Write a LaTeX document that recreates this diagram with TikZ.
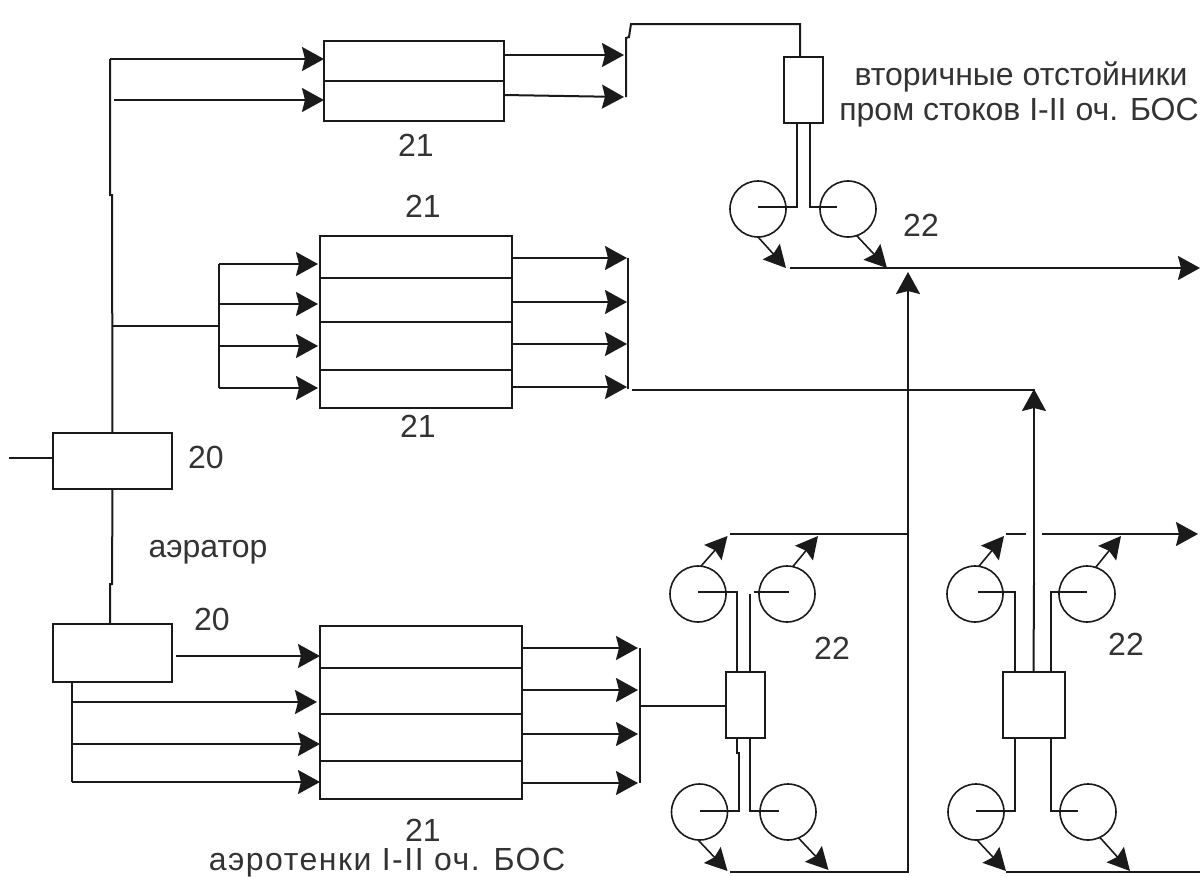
\documentclass[tikz,border=0pt]{standalone}
\usepackage{fontspec}
\setmainfont{Liberation Sans}
\usetikzlibrary{arrows.meta,calc}
\definecolor{ink}{HTML}{1A1A1A}
\definecolor{txt}{HTML}{333333}
\tikzset{
  conn/.style={draw=ink,line width=2pt},
  flow/.style={conn,-{Stealth[length=22pt,width=24pt,inset=3pt]}},
  tinyflow/.style={draw=ink,line width=1.6pt,-{Stealth[length=22pt,width=23pt,inset=3pt]}},
  box/.style={draw=ink,line width=2pt,inner sep=0pt,outer sep=0pt},
  tank/.style={draw=ink,line width=1.6pt,circle,inner sep=0pt,outer sep=0pt,minimum size=56pt},
  lbl/.style={text=txt,inner sep=0pt,font=\fontsize{32}{34}\selectfont},
}
\begin{document}
\begin{tikzpicture}[x=1pt,y=-1pt]
\useasboundingbox[fill=white] (0,0) rectangle (1200,876);
% boxes
\node[box,minimum width=180pt,minimum height=80pt] (b1) at (414,81) {};
\node[box,minimum width=192pt,minimum height=172pt] (b2) at (416,322) {};
\node[box,minimum width=202pt,minimum height=173pt] (b3) at (421,712.5) {};
\node[box,minimum width=119pt,minimum height=56pt] (a1) at (112.5,461) {};
\node[box,minimum width=119pt,minimum height=58pt] (a2) at (112.5,653) {};
\node[box,minimum width=39pt,minimum height=66pt] (s1) at (803.5,90) {};
\node[box,minimum width=39pt,minimum height=66pt] (s3) at (745.5,705) {};
\node[box,minimum width=62pt,minimum height=66pt] (s4) at (1034,705) {};
% dividers
\foreach \b/\y in {b1/81,b2/278,b2/322,b2/370,b3/668,b3/714,b3/761}
  \draw[conn] (\b.west |- 0,\y) -- (\b.east |- 0,\y);
% tanks
\node[tank] (c1) at (758,209) {};
\node[tank] (c2) at (848,209) {};
\node[tank] (c3) at (698,594) {};
\node[tank] (c4) at (787,594) {};
\node[tank] (c5) at (699.5,812) {};
\node[tank] (c6) at (788,812) {};
\node[tank] (c7) at (975,594) {};
\node[tank] (c8) at (1087,594) {};
\node[tank] (c9) at (976,812) {};
\node[tank] (c10) at (1088,812) {};
% coordinates
\coordinate (inleft) at (9,458);
\coordinate (j1) at (112,195);
\coordinate (j1t) at (110,195);
\coordinate (j2) at (112,584);
\coordinate (j2b) at (110,584);
\coordinate (busA) at (219,326);
\coordinate (busB) at (628,388);
\coordinate (t1) at (626,38);
\coordinate (t2) at (629,37);
\coordinate (t3) at (631,24);
\coordinate (t4) at (800,24);
\coordinate (main1) at (790,268);
\coordinate (mainE) at (1200,268);
\coordinate (r1) at (908,272);
\coordinate (r2) at (908,534);
\coordinate (r3) at (908,872);
\coordinate (q1) at (1034,389);
\coordinate (q2) at (1034,583);
\coordinate (tl3) at (730,534);
\coordinate (bl3) at (730,872);
\coordinate (g4a) at (1006,534);
\coordinate (g4b) at (1026,534);
\coordinate (g4c) at (1042,534);
\coordinate (g4e) at (1198,534);
\coordinate (g4f) at (1006,872);
\coordinate (g4g) at (1200,872);
% feed line
\draw[conn] (inleft) -- (a1.west |- inleft);
\draw[conn] (a1.north) -- (j1) -- (j1t) -- (110,59) coordinate (f1);
\draw[conn] (a1.south) -- (j2) -- (j2b) -- (j2b |- a2.north);
\draw[flow] (f1) -- (b1.west |- f1);
\draw[flow] (114,100) -- (b1.west |- 0,100);
\draw[conn] (112,326) -- (busA);
\draw[conn] (219,264) -- (219,388);
\foreach \y in {264,304,346,388}
  \draw[flow] (219,\y) -- ($(b2.west |- 0,\y)+(-2,0)$);
% lower aerator
\draw[flow] (176,656) -- (b3.west |- 0,656);
\draw[conn] (72,682) -- (72,782);
\draw[flow] (72,702) -- (317,702);
\draw[flow] (72,744) -- (b3.west |- 0,744);
\draw[flow] (72,782) -- (b3.west |- 0,782);
% outlets top box
\draw[flow] (b1.east |- 0,55) -- (624,55);
\draw[flow] (b1.east |- 0,95) -- (624,97);
\draw[conn] (626,97) -- (t1) -- (t2) -- (t3) -- (t4) -- (t4 |- s1.north);
% outlets middle box
\foreach \y in {258,302,344,387}
  \draw[flow] (b2.east |- 0,\y) -- (627,\y);
\draw[conn] (628,258) -- (628,389);
\draw[conn] (632,390) -- (1035,390);
% outlets lower box
\foreach \y in {648,690,734,783}
  \draw[flow] (b3.east |- 0,\y) -- (638,\y);
\draw[conn] (640,648) -- (640,783);
\draw[conn] (640,706) -- (s3.west |- 0,706);
% settler 1
\draw[conn] (797,123) -- (797,207) -- (c1.center |- 0,207);
\draw[conn] (810,123) -- (810,207) -- (837,207);
\draw[tinyflow] (c1.-90) -- (786,268);
\draw[tinyflow] (c2.-72) -- (887,268);
\draw[flow] (main1) -- (mainE);
% settler 3
\draw[conn] (c3.center |- 0,592) -- (737,592) -- (737,672);
\draw[conn] (789,592) -- (754,592);
\draw[conn] (750,594) -- (750,672);
\draw[conn] (737,738) -- (737,753) -- (738.5,753) -- (738.5,811) -- (c5.center |- 0,811);
\draw[conn] (750,738) -- (750,811) -- (779,811);
\draw[tinyflow] (c3.84) -- (727.5,536);
\draw[tinyflow] (c4.78) -- (818,536);
\draw[tinyflow] (c5.-93) -- (727.5,871);
\draw[tinyflow] (c6.-68) -- (828.5,870);
\draw[conn] (tl3) -- (r2);
\draw[conn] (bl3) -- (r3) -- (r2);
\draw[flow] (r2) -- (r1);
% settler 4
\draw[conn] (978,592) -- (1015,592) -- (1015,672);
\draw[conn] (1087,592) -- (1051,592) -- (1051,672);
\draw[conn] (1015,738) -- (1015,811) -- (c9.center |- 0,811);
\draw[conn] (1051,738) -- (1051,811) -- (1078,811);
\draw[conn] (1033.5,672) -- (q2);
\draw[flow] (q2) -- (q1);
\draw[tinyflow] (c7.82) -- (1004,536);
\draw[tinyflow] (c8.72) -- (1121,536);
\draw[tinyflow] (c9.-88) -- (1006,871);
\draw[tinyflow] (c10.-65) -- (1130,871);
\draw[conn] (g4a) -- (g4b);
\draw[flow] (g4c) -- (g4e);
\draw[conn] (g4f) -- (g4g);
% labels
\node[lbl] (l1) at (416,145) {21};
\node[lbl] (l2) at (423,206) {21};
\node[lbl] (l3) at (418,426) {21};
\node[lbl] (l4) at (423,830) {21};
\node[lbl] (l5) at (206,457) {20};
\node[lbl] (l6) at (212,619) {20};
\node[lbl] (l7) at (921,225) {22};
\node[lbl] (l8) at (832,648) {22};
\node[lbl] (l9) at (1126,644) {22};
\node[lbl] (l10) at (208,552) {аэратор};
\node[lbl] (l11) at (1021,77) {вторичные отстойники};
\node[lbl] (l12) at (1019,113) {пром стоков I-II оч. БОС};
\node[lbl,font=\fontsize{32}{34}\selectfont\addfontfeature{LetterSpace=4.7}] (l13) at (387,863) {аэротенки I-II оч. БОС};
\end{tikzpicture}
\end{document}
